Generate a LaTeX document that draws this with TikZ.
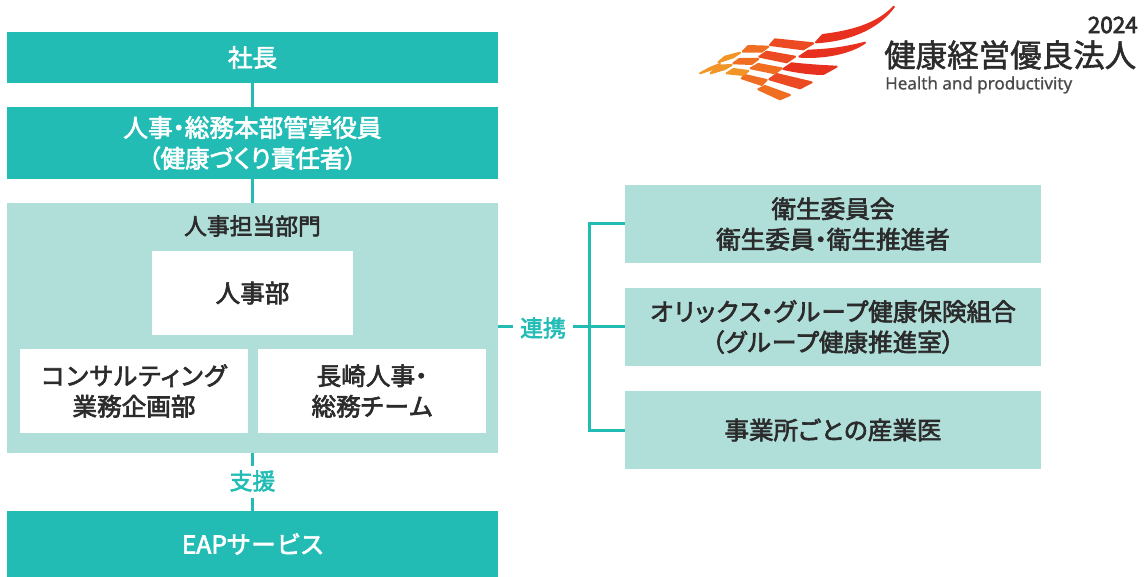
\documentclass[tikz,border=0pt]{standalone}
\usepackage{fontspec}
\setmainfont{Noto Sans CJK JP}[FakeBold=2.6,RawFeature={+palt}]
\newfontfamily\logofont{Noto Sans CJK JP}[FakeBold=1.6]
\newfontfamily\yearfont{Noto Sans CJK JP}[FakeBold=3]
\newfontfamily\latinlogo{Noto Sans}[FakeBold=0.9]
\newfontfamily\kanafont{Noto Sans CJK JP}[FakeBold=2.6,RawFeature={+palt},LetterSpace=5.5]
\newcommand{\kn}[1]{{\kanafont #1}}
\definecolor{teal}{HTML}{22BCB5}
\definecolor{pale}{HTML}{B0DFDA}
\definecolor{ink}{HTML}{2B2B2B}
\definecolor{wingA}{HTML}{E8301F}
\definecolor{wingB}{HTML}{EB4A22}
\definecolor{wingC}{HTML}{EF6E22}
\definecolor{wingD}{HTML}{F39426}
\tikzset{
  box/.style={draw=none,inner sep=0pt,align=center,text=ink,font=\fontsize{24.6}{30.6}\selectfont,anchor=center},
  darkbox/.style={box,fill=teal,text=white},
  palebox/.style={box,fill=pale},
  whitebox/.style={box,fill=white},
  link/.style={draw=teal,line width=3pt},
  linklabel/.style={inner sep=0pt,text=teal,font=\fontsize{22.8}{26}\selectfont},
  wingpart/.style={draw,line width=2pt,line join=round}
}
\begin{document}
\begin{tikzpicture}[x=1pt,y=-1pt]
\useasboundingbox (0,0) rectangle (1144,577);
\coordinate (trunkT) at (589,223.5);
\coordinate (trunkM) at (589,327);
\coordinate (trunkB) at (589,430.5);
\node[darkbox,minimum width=491pt,minimum height=51pt] (ceo) at (252.5,57.5) {社長};
\node[darkbox,minimum width=491pt,minimum height=72pt] (exec) at (252.5,143) {人事・総務本部管掌役員\\（健康づくり責任者）};
\node[palebox,minimum width=491pt,minimum height=250pt] (hr) at (252.5,328) {};
\node[box,font=\fontsize{22.8}{26}\selectfont] (hrt) at (252.5,226) {人事担当部門};
\node[whitebox,minimum width=201pt,minimum height=84pt] (jinji) at (252.5,293) {人事部};
\node[whitebox,minimum width=228pt,minimum height=84pt] (cons) at (134,391) {\kn{コンサルティング}\\業務企画部};
\node[whitebox,minimum width=228pt,minimum height=84pt] (naga) at (372,391) {長崎人事・\\総務\kn{チーム}};
\node[darkbox,minimum width=491pt,minimum height=66pt] (eap) at (252.5,544) {\raisebox{-1pt}{EAP\kn{サービス}}};
\node[palebox,minimum width=416pt,minimum height=78pt] (r1) at (833,224) {衛生委員会\\衛生委員・衛生推進者};
\node[palebox,minimum width=416pt,minimum height=78pt] (r2) at (833,327) {\kn{オリックス}・\kn{グループ}健康保険組合\\（\kn{グループ}健康推進室）};
\node[palebox,minimum width=416pt,minimum height=78pt] (r3) at (833,430) {事業所\kn{ごとの}産業医};
\node[linklabel] (renkei) at (543,328) {連携};
\node[linklabel] (shien) at (252.5,481) {支援};
\draw[link] (ceo) -- (exec);
\draw[link] (exec) -- (hr);
\draw[link] (hr.south) -- ([yshift=-13pt]hr.south);
\draw[link] ([yshift=13pt]eap.north) -- (eap.north);
\draw[link] (trunkM -| hr.east) -- ([xshift=-7pt]trunkM -| renkei.west);
\draw[link] ([xshift=7pt]trunkM -| renkei.east) -- (trunkM -| r2.west);
\draw[link] (r1.west |- trunkT) -- (trunkT) -- (trunkB) -- (r3.west |- trunkB);
% logo text
\node[inner sep=0pt,anchor=east,text=ink,font=\yearfont\fontsize{22.5}{22}\selectfont] (year) at (1138,25) {2024};
\node[inner sep=0pt,anchor=west,text=ink,font=\logofont\fontsize{31.5}{32}\selectfont] (award) at (884,55) {健康経営優良法人};
\node[inner sep=0pt,anchor=west,text=ink!85,font=\latinlogo\fontsize{17}{18}\selectfont] (eng) at (885,85) {Health and productivity};
% logo wing
\begin{scope}[shift={(680,0)},x=0.3333pt,y=-0.3333pt]
\fill[wingA,wingpart] (642,20) .. controls (590,75) and (510,95) .. (428,105) -- (408,127) .. controls (500,122) and (590,90) .. cycle;
\fill[wingA,wingpart] (555,128) .. controls (490,145) and (440,150) .. (385,152) -- (358,170) .. controls (430,175) and (510,160) .. cycle;
\fill[wingA,wingpart] (470,200) .. controls (420,198) and (380,195) .. (335,190) -- (310,207) .. controls (360,218) and (400,222) .. (430,222) -- cycle;
\fill[wingB,wingpart] (285,118) -- (400,130) -- (370,148) -- (270,135) -- cycle;
\fill[wingB,wingpart] (260,155) -- (345,170) -- (320,187) -- (238,170) -- cycle;
\fill[wingB,wingpart] (290,222) -- (395,247) -- (360,265) -- (268,238) -- cycle;
\fill[wingC,wingpart] (235,192) -- (305,205) -- (285,220) -- (212,205) -- cycle;
\fill[wingC,wingpart] (205,138) -- (265,140) -- (245,155) -- (188,155) -- cycle;
\fill[wingC,wingpart] (178,177) -- (235,177) -- (215,192) -- (160,190) -- cycle;
\fill[wingC,wingpart] (195,225) -- (260,240) -- (245,255) -- (185,235) -- cycle;
\fill[wingC,wingpart] (255,258) -- (330,285) -- (300,298) -- (235,268) -- cycle;
\fill[wingD,wingpart] (160,207) -- (205,213) -- (190,225) -- (140,220) -- cycle;
\fill[wingD,wingpart] (135,170) -- (180,158) -- (160,172) -- (115,187) -- cycle;
\fill[wingD,wingpart] (115,197) -- (155,195) -- (135,207) -- (92,220) -- cycle;
\fill[wingD,wingpart] (92,203) -- (120,192) -- (95,208) -- (60,220) -- cycle;
\end{scope}
\end{tikzpicture}
\end{document}
